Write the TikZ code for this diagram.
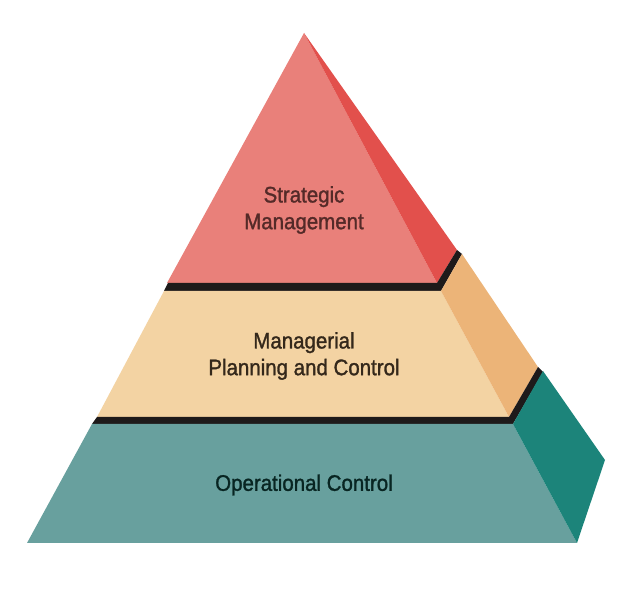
\documentclass[tikz,border=0pt]{standalone}
\usepackage{fontspec}
\setmainfont{Liberation Sans}[FakeStretch=0.91, FakeBold=1.3]
\definecolor{topfront}{HTML}{E9807A}
\definecolor{topside}{HTML}{E2504C}
\definecolor{midfront}{HTML}{F3D3A3}
\definecolor{midside}{HTML}{ECB478}
\definecolor{lowfront}{HTML}{68A09E}
\definecolor{lowside}{HTML}{1C847A}
\definecolor{band}{HTML}{1E1A1A}
\definecolor{toptext}{HTML}{542A28}
\begin{document}
\begin{tikzpicture}
[x=0.025cm, y=-0.025cm,
 nodes={align=center, font=\fontsize{16}{19}\selectfont},
 shadow/.style={fill=band}]
\useasboundingbox (0,0) rectangle (640,590);

% corners of the pyramid
\coordinate (Apex) at (304,33);
\coordinate (BaseL) at (27,543);
\coordinate (BaseR) at (577,543);
\coordinate (Back) at (605,460);

% strategic tier
\fill[topfront] (Apex) -- (437,283) -- (167,283) -- cycle;
\fill[topside] (Apex) -- (457,250) -- (437,283) -- cycle;
\fill[shadow] (168,283) -- (437,283) -- (457,250) -- (462,254) -- (441,291) -- (164,291) -- cycle;

% managerial tier
\fill[midfront] (164,291) -- (441,291) -- (509,417) -- (97,417) -- cycle;
\fill[midside] (441,291) -- (462,254) -- (538,367) -- (509,417) -- cycle;
\fill[shadow] (97,417) -- (509,417) -- (538,367) -- (543,372) -- (513,424) -- (92,424) -- cycle;

% operational tier
\fill[lowfront] (92,424) -- (513,424) -- (BaseR) -- (BaseL) -- cycle;
\fill[lowside] (513,424) -- (543,371) -- (Back) -- (BaseR) -- cycle;

\node (Strategic) at (304,210) [text=toptext] {Strategic\\Management};
\node (Managerial) at (304,356) [text=black!78!midside] {Managerial\\Planning and Control};
\node (Operational) at (304,485) [text=black!72!lowside] {Operational Control};
\end{tikzpicture}
\end{document}
